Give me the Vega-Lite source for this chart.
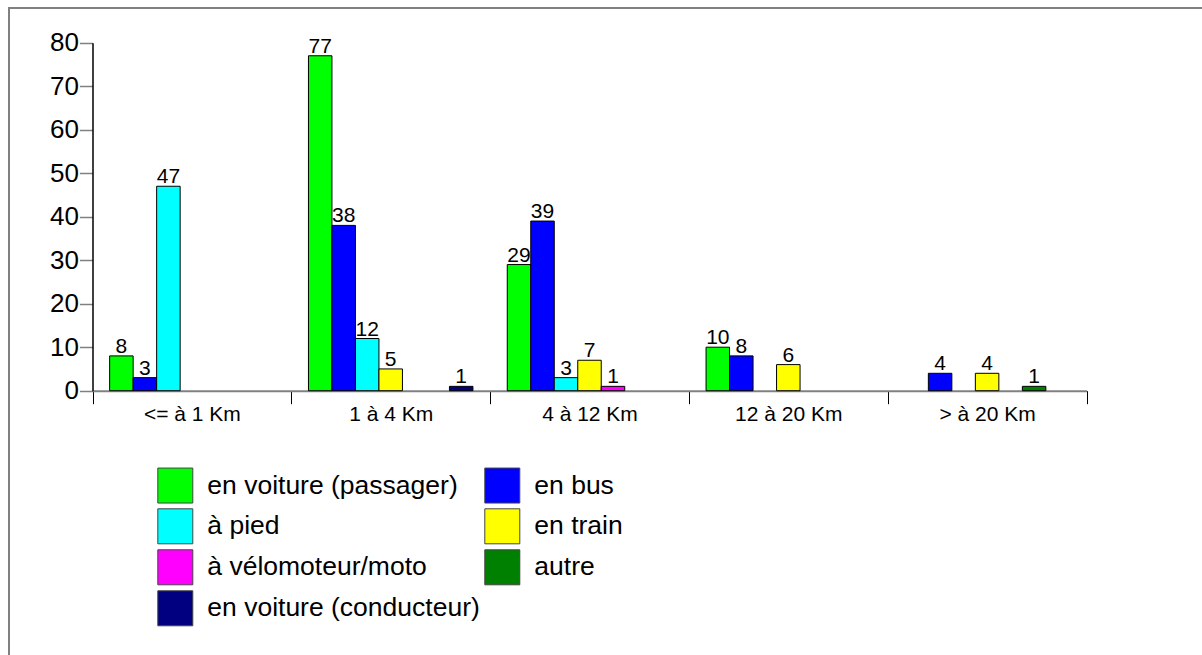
{
  "$schema": "https://vega.github.io/schema/vega-lite/v6.json",
  "width": 1195,
  "height": 649,
  "autosize": {"type": "none"},
  "padding": {"left": 9, "top": 8, "right": -2, "bottom": -2},
  "background": "white",
  "config": {
    "view": {"stroke": "#808080", "strokeWidth": 2},
    "font": "Liberation Sans"
  },
  "data": {
    "values": [
      {"distance": "<= à 1 Km", "mode": "en voiture (passager)", "value": 8},
      {"distance": "<= à 1 Km", "mode": "en bus", "value": 3},
      {"distance": "<= à 1 Km", "mode": "à pied", "value": 47},
      {"distance": "1 à 4 Km", "mode": "en voiture (passager)", "value": 77},
      {"distance": "1 à 4 Km", "mode": "en bus", "value": 38},
      {"distance": "1 à 4 Km", "mode": "à pied", "value": 12},
      {"distance": "1 à 4 Km", "mode": "en train", "value": 5},
      {"distance": "1 à 4 Km", "mode": "en voiture (conducteur)", "value": 1},
      {"distance": "4 à 12 Km", "mode": "en voiture (passager)", "value": 29},
      {"distance": "4 à 12 Km", "mode": "en bus", "value": 39},
      {"distance": "4 à 12 Km", "mode": "à pied", "value": 3},
      {"distance": "4 à 12 Km", "mode": "en train", "value": 7},
      {"distance": "4 à 12 Km", "mode": "à vélomoteur/moto", "value": 1},
      {"distance": "12 à 20 Km", "mode": "en voiture (passager)", "value": 10},
      {"distance": "12 à 20 Km", "mode": "en bus", "value": 8},
      {"distance": "12 à 20 Km", "mode": "en train", "value": 6},
      {"distance": "> à 20 Km", "mode": "en bus", "value": 4},
      {"distance": "> à 20 Km", "mode": "en train", "value": 4},
      {"distance": "> à 20 Km", "mode": "autre", "value": 1}
    ]
  },
  "layer": [
    {
      "mark": {"type": "bar", "stroke": "black", "strokeWidth": 1},
      "encoding": {
        "x": {
          "field": "distance",
          "type": "nominal",
          "scale": {
            "domain": ["<= à 1 Km", "1 à 4 Km", "4 à 12 Km", "12 à 20 Km", "> à 20 Km"],
            "range": [83.5, 1077.5],
            "paddingInner": 0,
            "paddingOuter": 0
          },
          "axis": {
            "title": null,
            "orient": "bottom",
            "offset": -266.3,
            "tickBand": "extent",
            "domainColor": "#808080",
            "domainWidth": 2,
            "tickColor": "black",
            "tickSize": 13,
            "tickWidth": 1,
            "labelFontSize": 21,
            "labelColor": "black",
            "labelPadding": 0,
            "labelAngle": 0,
            "grid": false
          }
        },
        "xOffset": {
          "field": "mode",
          "type": "nominal",
          "scale": {
            "domain": ["en voiture (passager)", "en bus", "à pied", "en train", "à vélomoteur/moto", "autre", "en voiture (conducteur)"],
            "paddingInner": 0,
            "paddingOuter": 0.73
          }
        },
        "y": {
          "field": "value",
          "type": "quantitative",
          "scale": {"domain": [0, 80], "range": [382.7, 34.7], "nice": false, "zero": true},
          "axis": {
            "title": null,
            "orient": "left",
            "offset": -83.5,
            "values": [0, 10, 20, 30, 40, 50, 60, 70, 80],
            "domainColor": "black",
            "domainWidth": 1.5,
            "tickColor": "#808080",
            "tickSize": 13,
            "tickWidth": 1.5,
            "labelFontSize": 26,
            "labelColor": "black",
            "labelPadding": 1,
            "grid": false
          }
        },
        "color": {
          "field": "mode",
          "type": "nominal",
          "scale": {
            "domain": ["en voiture (passager)", "en bus", "à pied", "en train", "à vélomoteur/moto", "autre", "en voiture (conducteur)"],
            "range": ["#00ff00", "#0000ff", "#00ffff", "#ffff00", "#ff00ff", "#008000", "#000080"]
          },
          "legend": {
            "title": null,
            "orient": "none",
            "legendX": 148.3,
            "legendY": 459.3,
            "direction": "horizontal",
            "columns": 2,
            "columnPadding": 2,
            "rowPadding": 1,
            "padding": 0,
            "symbolType": "square",
            "symbolSize": 1225,
            "symbolStrokeColor": "#444444",
            "symbolStrokeWidth": 1,
            "symbolOpacity": 1,
            "labelFontSize": 26.5,
            "labelOffset": 14,
            "labelColor": "black",
            "labelLimit": 0
          }
        }
      }
    },
    {
      "mark": {"type": "text", "baseline": "alphabetic", "dy": -3, "fontSize": 21, "color": "black"},
      "encoding": {
        "x": {"field": "distance", "type": "nominal"},
        "xOffset": {"field": "mode", "type": "nominal"},
        "y": {"field": "value", "type": "quantitative"},
        "text": {"field": "value", "type": "quantitative"}
      }
    }
  ]
}
